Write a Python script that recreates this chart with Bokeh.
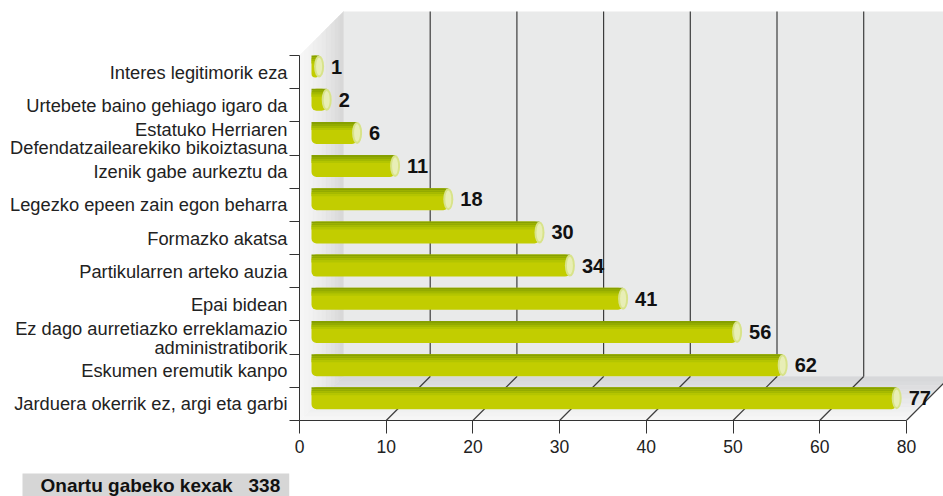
from bokeh.plotting import figure
from bokeh.models import Range1d, FixedTicker, Title
from bokeh.core.properties import value
from bokeh.embed import file_html
from bokeh.resources import INLINE

# ---------------- data ----------------
CATEGORIES = [
    "Interes legitimorik eza",
    "Urtebete baino gehiago igaro da",
    "Estatuko Herriaren\nDefendatzailearekiko bikoiztasuna",
    "Izenik gabe aurkeztu da",
    "Legezko epeen zain egon beharra",
    "Formazko akatsa",
    "Partikularren arteko auzia",
    "Epai bidean",
    "Ez dago aurretiazko erreklamazio\nadministratiborik",
    "Eskumen eremutik kanpo",
    "Jarduera okerrik ez, argi eta garbi",
]
VALUES = [1, 2, 6, 11, 18, 30, 34, 41, 56, 62, 77]
X_TICKS = [0, 10, 20, 30, 40, 50, 60, 70]
X_TICK_LABELS = ["0", "10", "20", "30", "40", "50", "60", "80"]
TOTAL_LABEL = "Onartu gabeko kexak"

# ---------------- layout / style ----------------
W, H = 943, 496
FRAME_LEFT = 299
FRAME_W = W - FRAME_LEFT
FRAME_H = 420
PX_PER_X = 8.67          # axis units
PX_PER_CAT = 33.18       # one category band
DEPTH_PX = 44
BAR_ORIGIN_PX = 12
BAR_PX_PER_UNIT = 7.6
BAR_H_PX = 22
CAP_W_PX = 10
FONT = "Liberation Sans"
TOTAL_BOX_X_PX = 22

N = len(CATEGORIES)
ys = [N - 1 - i for i in range(N)]
dx = DEPTH_PX / PX_PER_X
dy = DEPTH_PX / PX_PER_CAT
x_max = X_TICKS[-1]
y_lo, y_hi = -0.5, N - 0.5

p = figure(width=W, height=H,
           x_range=Range1d(0, FRAME_W / PX_PER_X),
           y_range=Range1d(y_lo, y_lo + FRAME_H / PX_PER_CAT),
           output_backend="svg", toolbar_location=None,
           min_border_left=FRAME_LEFT, min_border_right=0,
           min_border_top=0, min_border_bottom=H - FRAME_H)
p.outline_line_color = None
p.xgrid.visible = False
p.ygrid.visible = False
p.background_fill_color = "white"
p.border_fill_color = "white"

bar_start = -BAR_ORIGIN_PX / BAR_PX_PER_UNIT
p.extra_x_ranges = {"bars": Range1d(bar_start, bar_start + FRAME_W / BAR_PX_PER_UNIT)}


def lerp(c0, c1, t):
    return "#%02x%02x%02x" % tuple(int(round(a + (b - a) * t)) for a, b in zip(c0, c1))


# back wall
p.quad(left=[dx], right=[x_max + dx], bottom=[y_lo + dy], top=[y_hi + dy],
       fill_color="#e9eaea", line_color=None)

# floor (gradient strips)
nstr = 10
fx, fy, fc = [], [], []
for k in range(nstr):
    t0, t1 = k / nstr, (k + 1) / nstr
    fx.append([t0 * dx, x_max + t0 * dx, x_max + t1 * dx, t1 * dx])
    fy.append([y_lo + t0 * dy, y_lo + t0 * dy, y_lo + t1 * dy, y_lo + t1 * dy])
    fc.append(lerp((248, 248, 248), (213, 214, 216), (k + 0.5) / nstr))
p.patches(fx, fy, fill_color=fc, line_color=fc, line_width=0.5)

# left wall (gradient strips)
lx, ly, lc = [], [], []
for k in range(nstr):
    t0, t1 = k / nstr, (k + 1) / nstr
    lx.append([t0 * dx, t1 * dx, t1 * dx, t0 * dx])
    ly.append([y_lo + t0 * dy, y_lo + t1 * dy, y_hi + t1 * dy, y_hi + t0 * dy])
    lc.append(lerp((246, 246, 246), (214, 214, 214), ((k + 0.5) / nstr) ** 1.5))
p.patches(lx, ly, fill_color=lc, line_color=lc, line_width=0.5)

# grid lines on back wall and floor
gt = [t for t in X_TICKS if t > 0]
p.segment(x0=[t + dx for t in gt], y0=[y_lo + dy] * len(gt),
          x1=[t + dx for t in gt], y1=[y_hi + dy] * len(gt),
          line_color="#3c3c3c", line_width=1.2)
p.segment(x0=gt, y0=[y_lo] * len(gt), x1=[t + dx for t in gt], y1=[y_lo + dy] * len(gt),
          line_color="#3c3c3c", line_width=1.2)

# bars (cylinders)
bh = BAR_H_PX / PX_PER_CAT
bar_y = [y + 0.5 - bh / 2 for y in ys]
p.hbar(y=bar_y, height=bh, left=0, right=VALUES, x_range_name="bars",
       fill_color="#c2cd00", line_color=None, border_radius=5)
stripes = [(0, 2, "#86a000"), (2, 2, "#93ab00"), (4, 2, "#a3b900"), (6, 2, "#b3c500")]
for off, hgt, col in stripes:
    sy = [y + 0.5 - (off + hgt / 2) / PX_PER_CAT for y in ys]
    p.hbar(y=sy, height=hgt / PX_PER_CAT, left=0, right=VALUES, x_range_name="bars",
           fill_color=col, line_color=None)
p.ellipse(x=VALUES, y=bar_y, width=CAP_W_PX, height=bh, width_units="screen",
          x_range_name="bars", fill_color="#d8e38a", line_color=None)
p.ellipse(x=VALUES, y=bar_y, width=CAP_W_PX - 4, height=bh * 0.8, width_units="screen",
          x_range_name="bars", fill_color="#e8eeb6", line_color=None)

# value labels
p.text(x=VALUES, y=bar_y, text=[str(v) for v in VALUES], x_range_name="bars",
       x_offset=CAP_W_PX / 2 + 7, text_baseline="middle", text_align="left",
       text_font=value(FONT), text_font_style="bold", text_font_size="20px",
       text_color="#111111")

# x axis
xa = p.xaxis[0]
xa.ticker = FixedTicker(ticks=X_TICKS, minor_ticks=[])
xa.major_label_overrides = {t: l for t, l in zip(X_TICKS, X_TICK_LABELS)}
xa.bounds = (X_TICKS[0], X_TICKS[-1])
xa.major_tick_out = 13
xa.major_tick_in = 0
xa.minor_tick_out = 0
xa.minor_tick_in = 0
xa.axis_line_color = "#333333"
xa.major_tick_line_color = "#333333"
xa.major_label_text_font = FONT
xa.major_label_text_font_size = "17.5px"
xa.major_label_text_color = "#222222"
xa.major_label_standoff = 6
# invisible axis label only used as vertical spacer before the total box
xa.axis_label = "\u00a0"
xa.axis_label_text_font_size = "1px"
xa.axis_label_standoff = 12

# y axis: labels at band centres, tick marks at band boundaries
ya = p.yaxis[0]
ya.ticker = FixedTicker(ticks=ys, minor_ticks=[y - 0.5 for y in ys] + [y_hi])
ya.major_label_overrides = {y: c for y, c in zip(ys, CATEGORIES)}
ya.bounds = (y_lo, y_hi)
ya.major_tick_out = 0
ya.major_tick_in = 0
ya.minor_tick_out = 10
ya.minor_tick_in = 0
ya.axis_line_color = "#333333"
ya.minor_tick_line_color = "#333333"
ya.major_label_text_font = FONT
ya.major_label_text_font_size = "18.3px"
ya.major_label_text_color = "#222222"
ya.major_label_text_line_height = 0.9
ya.major_label_standoff = 2

# total box, as a title in the bottom panel
total = sum(VALUES)
p.add_layout(Title(text=f"{TOTAL_LABEL}\u00a0\u00a0\u00a0{total}", align="left",
                   offset=TOTAL_BOX_X_PX - FRAME_LEFT, standoff=0,
                   text_font=FONT, text_font_style="bold", text_font_size="19px",
                   text_color="#111111", background_fill_color="#d6d6d6",
                   padding=(18, 9, 1, 1)), "below")

open("out.html", "w").write(file_html(p, INLINE))
